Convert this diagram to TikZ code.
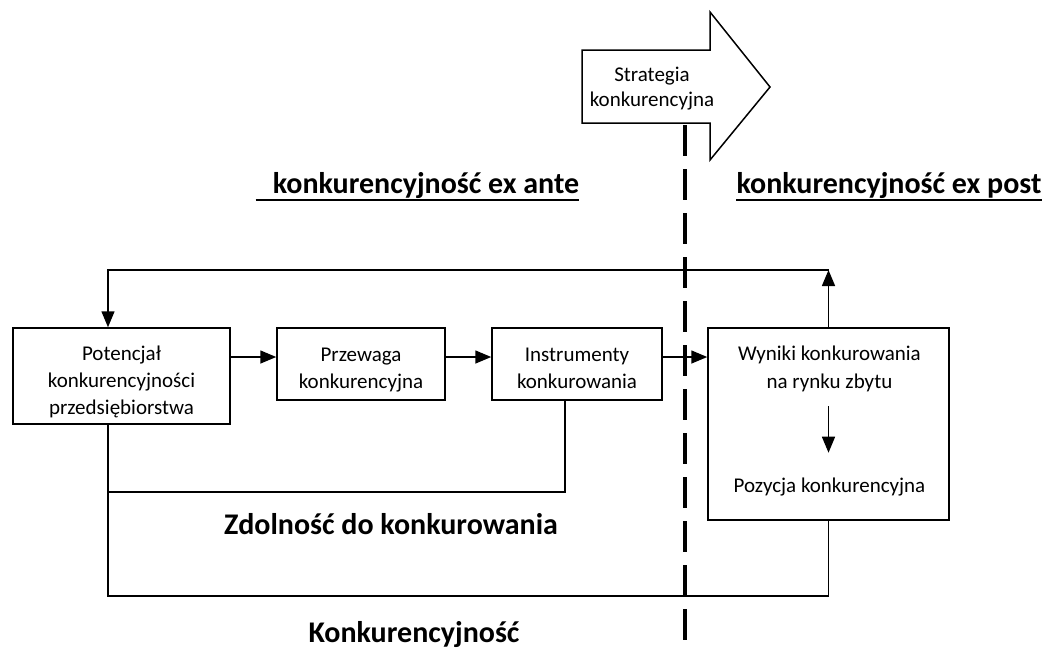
\documentclass[tikz,border=0pt]{standalone}
\usepackage{fontspec}
\setmainfont{Carlito}
\usetikzlibrary{arrows.meta,calc}
% extra room above the first line and below the last line of a box label
\newcommand\toppad{\rule{0pt}{28pt}}
\newcommand\botpad{\rule[-6pt]{0pt}{6pt}}
\tikzset{
  box/.style={draw, line width=1.5pt, minimum width=#1, inner sep=0pt, align=center,
              font=\fontsize{21}{27}\selectfont},
  plain/.style={inner sep=0pt, align=center, font=\fontsize{21}{27}\selectfont},
  head/.style={inner sep=0pt, font=\fontsize{30}{36}\selectfont\bfseries},
  link/.style={line width=1.5pt},
  arr/.style={line width=1.5pt, -{Triangle[length=16pt,width=13pt]}},
  divider/.style={line width=4pt, dash pattern=on 31pt off 13pt},
}
\begin{document}
\begin{tikzpicture}[x=1pt,y=-1pt]
\useasboundingbox (0,0) rectangle (1048,651);

% strategy arrow
\draw[line width=1.5pt, fill=white] (582,50) -- (710,50) -- (710,12) -- (770,87)
  -- (710,160) -- (710,123) -- (582,123) -- cycle;
\node[plain, font=\fontsize{21}{25}\selectfont] (strat) at (652,89) {Strategia\\konkurencyjna};

% headings
\node[head, anchor=base] (ante) at (426,193) {konkurencyjność ex ante};
\node[head, anchor=base] (post) at (889,193) {konkurencyjność ex post};
\draw[line width=1.8pt] ([xshift=-17pt,yshift=-7pt]ante.base west) -- ([yshift=-7pt]ante.base east);
\draw[line width=1.8pt] ([yshift=-7pt]post.base west) -- ([yshift=-7pt]post.base east);

% boxes
\node[box=217pt, minimum height=96pt] (pot) at (121.5,376)
  {\toppad Potencjał\\konkurencyjności\\przedsiębiorstwa\botpad};
\node[box=168pt, minimum height=72pt] (prz) at (361,364) {\toppad Przewaga\\konkurencyjna\botpad};
\node[box=170pt, minimum height=72pt] (ins) at (577,364) {\toppad Instrumenty\\konkurowania\botpad};
\node[box=241pt, minimum height=192pt] (wyn) at (828.5,424) {};
\node[plain, font=\fontsize{21}{28}\selectfont] (wyt) at (829.5,369) {Wyniki konkurowania\\na rynku zbytu};
\node[plain] (poz) at (829.5,487) {Pozycja konkurencyjna};

% flow arrows
\draw[arr] (pot.east |- 0,357) -- (prz.west |- 0,357);
\draw[arr] (prz.east |- 0,357) -- (ins.west |- 0,357);
\draw[arr] (ins.east |- 0,357) -- (wyn.west |- 0,357);
\draw[arr, shorten <=14pt, shorten >=25pt] (wyt.south -| wyn.center) -- (poz.north -| wyn.center);

% feedback loop
\coordinate (fbR) at (828.5,270);
\coordinate (fbL) at (108,270);
\draw[arr] (wyn.north) -- (fbR);
\draw[arr] (fbR) -- (fbL) -- (pot.north -| fbL);

% brackets
\coordinate (zd) at (565,492);
\coordinate (kb) at (108,596);
\draw[link] (ins.south -| zd) -- (zd) -- (zd -| kb);
\draw[link] (pot.south -| kb) -- (kb) -| (wyn.south);

\node[head, anchor=base] (zdol) at (391,534) {Zdolność do konkurowania};
\node[head, anchor=base] (konk) at (414,642) {Konkurencyjność};

% ex ante / ex post divider
\coordinate (dtop) at (685,125);
\coordinate (dbot) at (685,651);
\draw[divider] (dtop) -- (dbot);
\end{tikzpicture}
\end{document}
